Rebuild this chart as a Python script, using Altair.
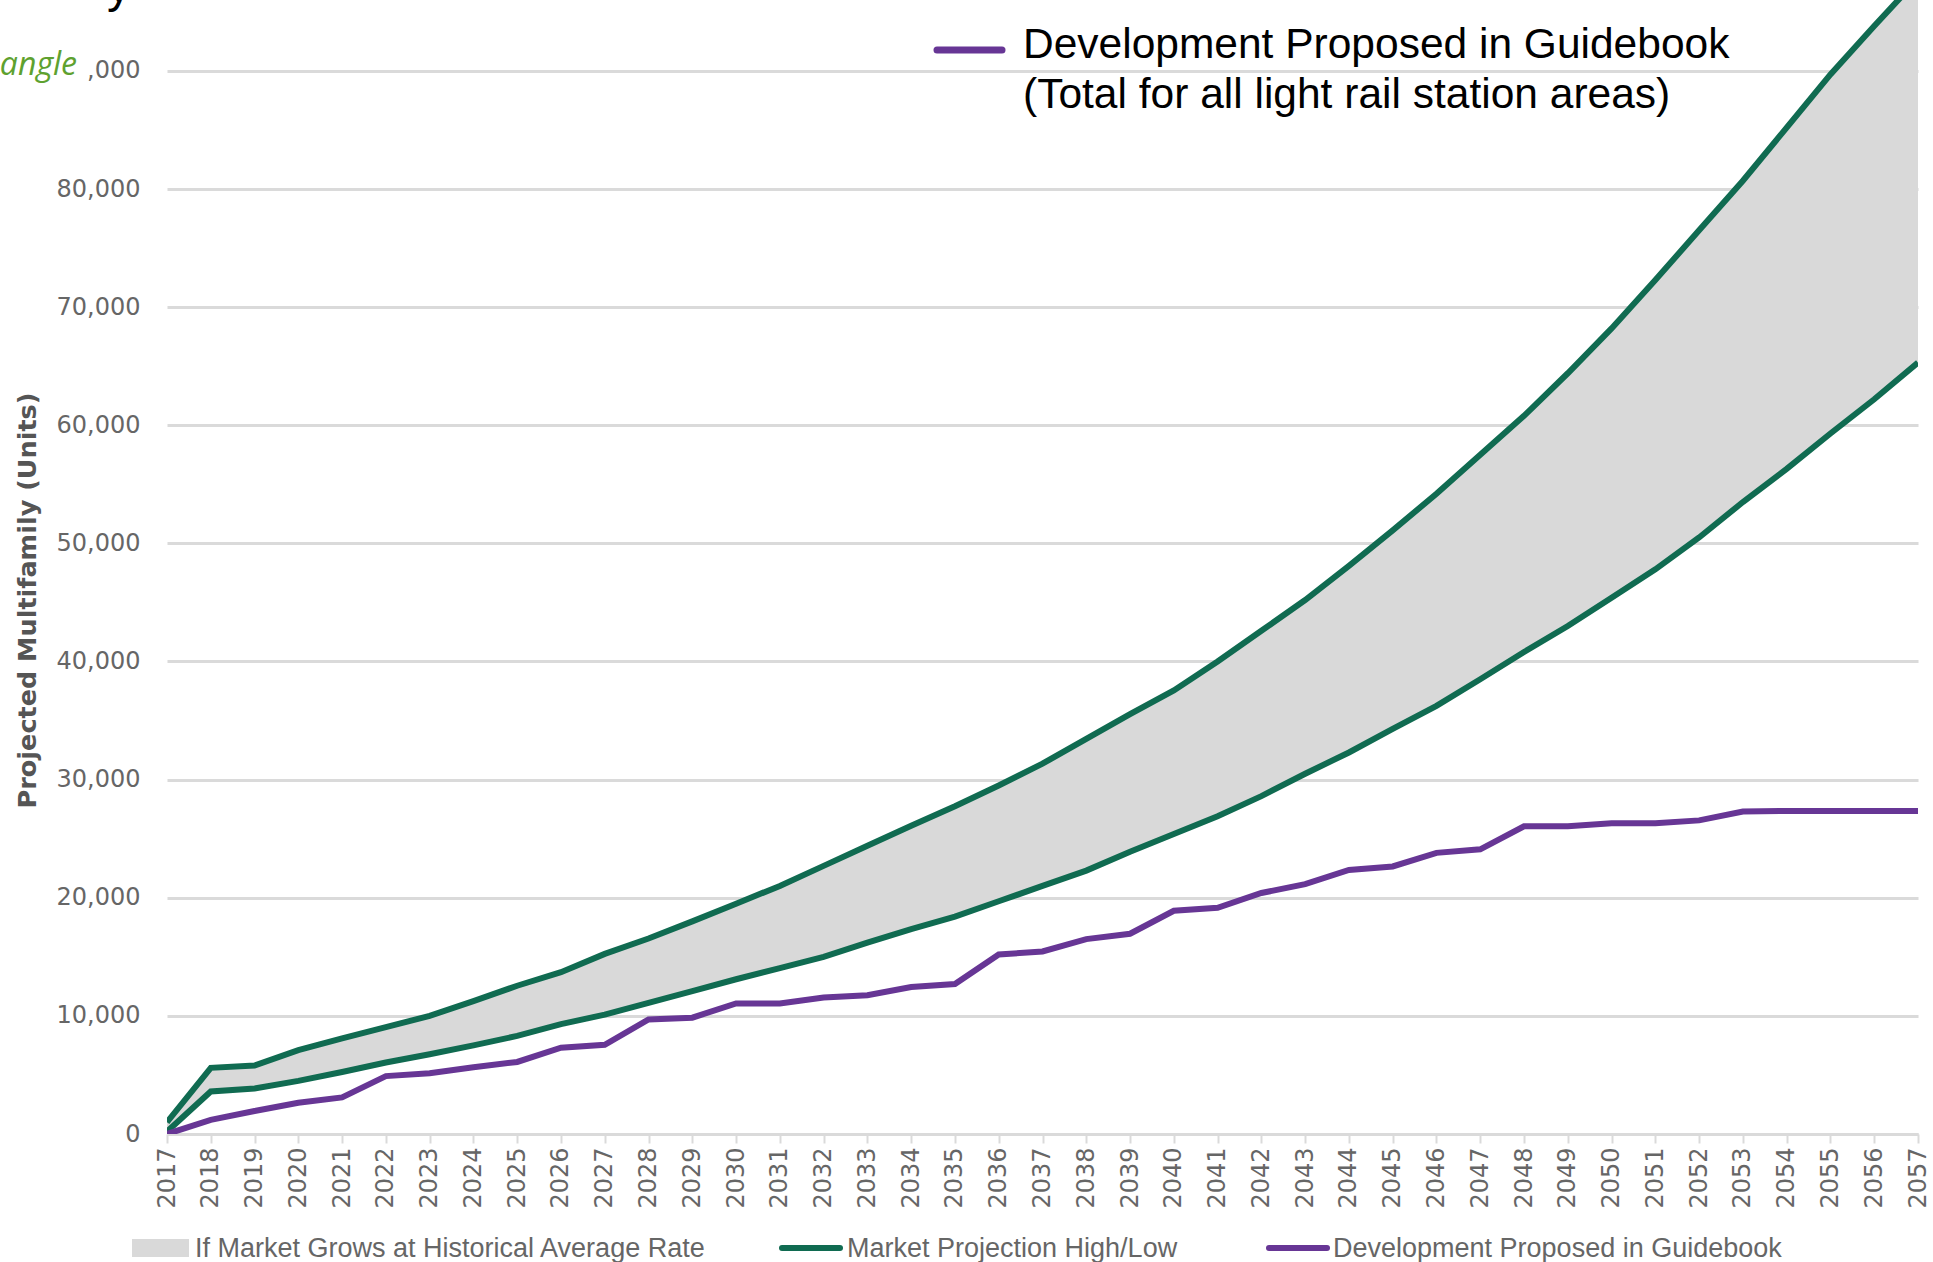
import altair as alt
import pandas as pd

years = list(range(2017, 2058))
high = [1000, 5600, 5800, 7100, 8100, 9050, 10000, 11250, 12550, 13700,
        15250, 16550, 18000, 19500, 21000, 22700, 24400, 26100, 27750, 29500,
        31350, 33450, 35550, 37550, 40000, 42600, 45200, 48100, 51100, 54200,
        57500, 60800, 64400, 68200, 72300, 76500, 80700, 85200, 89700, 93800,
        97800]
low = [200, 3600, 3850, 4500, 5250, 6050, 6750, 7500, 8300, 9300,
       10100, 11100, 12100, 13100, 14050, 15000, 16200, 17350, 18400, 19700,
       21000, 22300, 23900, 25400, 26900, 28600, 30500, 32300, 34300, 36250,
       38500, 40800, 43000, 45400, 47800, 50500, 53500, 56300, 59300, 62200,
       65300]
dev = [0, 1200, 1950, 2650, 3100, 4900, 5150, 5650, 6100, 7300,
       7550, 9700, 9850, 11050, 11050, 11550, 11750, 12450, 12700, 15200,
       15450, 16500, 16950, 18900, 19150, 20400, 21150, 22350, 22650, 23800,
       24100, 26050, 26050, 26300, 26300, 26550, 27300, 27350, 27350, 27350,
       27350]
y_ticks = [0, 10000, 20000, 30000, 40000, 50000, 60000, 70000, 80000, 90000]

legend_area = "If Market Grows at Historical Average Rate"
legend_market = "Market Projection High/Low"
legend_dev = "Development Proposed in Guidebook"
top_line1 = "Development Proposed in Guidebook"
top_line2 = "(Total for all light rail station areas)"
y_title = "Projected Multifamily (Units)"

GREEN = "#106b51"
PURPLE = "#673695"
FILL = "#d9d9d9"
GRID = "#dadada"
LABEL = "#666666"

df = pd.DataFrame({"year": years, "high": high, "low": low, "dev": dev})
one = pd.DataFrame({"k": [0]})

xscale = alt.Scale(domain=[2017, 2057], nice=False, zero=False)
yscale = alt.Scale(domain=[0, 96000], nice=False, zero=False)

x_axis = alt.Axis(values=years, format="d", labelAngle=270, labelFont="DejaVu Sans",
                  labelFontSize=24, labelColor=LABEL, labelPadding=4, labelFlush=False,
                  labelOverlap=False, labelBound=False, domainColor=GRID, domainWidth=3,
                  tickColor=GRID, tickWidth=2, tickSize=9, grid=False, title=None)
y_axis = alt.Axis(values=y_ticks,
                  labelExpr="datum.value == 90000 ? ',000' : format(datum.value, ',.0f')",
                  labelFont="DejaVu Sans", labelFontSize=24, labelColor=LABEL,
                  labelPadding=27, domain=False, ticks=False, tickSize=0,
                  grid=True, gridColor=GRID, gridWidth=3,
                  title=y_title, titleFont="DejaVu Sans", titleFontSize=25.5,
                  titleFontWeight="bold", titleColor="#555555", titleAngle=270,
                  titleX=-140, titleY=600, titleAlign="center", titleBaseline="middle")

base = alt.Chart(df)
area = base.mark_area(color=FILL, opacity=1, clip=True).encode(
    x=alt.X("year:Q", scale=xscale, axis=x_axis, title=None),
    y=alt.Y("low:Q", scale=yscale, axis=y_axis, title=y_title),
    y2="high:Q",
)

def series_line(field, color):
    return base.mark_line(color=color, strokeWidth=6, clip=True).encode(
        x=alt.X("year:Q", scale=xscale, title=None),
        y=alt.Y(f"{field}:Q", scale=yscale, title=y_title),
    )

line_low = series_line("low", GREEN)
line_high = series_line("high", GREEN)
line_dev = series_line("dev", PURPLE)

def txt(s, xv, yv, size, color, font, align="left", baseline="middle", style="normal", weight="normal"):
    return alt.Chart(one).mark_text(align=align, baseline=baseline, fontSize=size, color=color,
                                    font=font, fontStyle=style, fontWeight=weight).encode(
        x=alt.value(xv), y=alt.value(yv), text=alt.value(s))

def hrule(x1, x2, yv, color, w):
    return alt.Chart(one).mark_rule(color=color, strokeWidth=w, strokeCap="round").encode(
        x=alt.value(x1), x2=alt.value(x2), y=alt.value(yv))

leg_rect = alt.Chart(one).mark_rect(color=FILL).encode(
    x=alt.value(-35), x2=alt.value(22), y=alt.value(1239), y2=alt.value(1257))

layers = [
    area, line_low, line_high, line_dev,
    leg_rect,
    txt(legend_area, 28, 1249, 27, LABEL, "Liberation Sans"),
    hrule(615, 673, 1248, GREEN, 6),
    txt(legend_market, 680, 1249, 27, LABEL, "Liberation Sans"),
    hrule(1102, 1160, 1248, PURPLE, 6),
    txt(legend_dev, 1166, 1249, 27, LABEL, "Liberation Sans"),
    hrule(770, 835, 50, PURPLE, 7),
    txt(top_line1, 856, 58, 42.5, "#000000", "Liberation Sans", baseline="alphabetic"),
    txt(top_line2, 856, 108, 42.5, "#000000", "Liberation Sans", baseline="alphabetic"),
    txt("angle", -90, 75, 32, "#5ea12f", "Open Sans", align="right", baseline="alphabetic", style="italic"),
    txt("y", -60, 2, 48, "#000000", "Liberation Sans", baseline="alphabetic"),
]

chart = alt.layer(*layers).properties(
    width=1751, height=1134,
    autosize=alt.AutoSizeParams(type="none"),
    padding={"left": 167, "top": 0, "right": 15, "bottom": 128},
    background="white",
).configure_view(stroke=None)

chart.save("out.html", embed_options={"renderer": "svg", "actions": False})
